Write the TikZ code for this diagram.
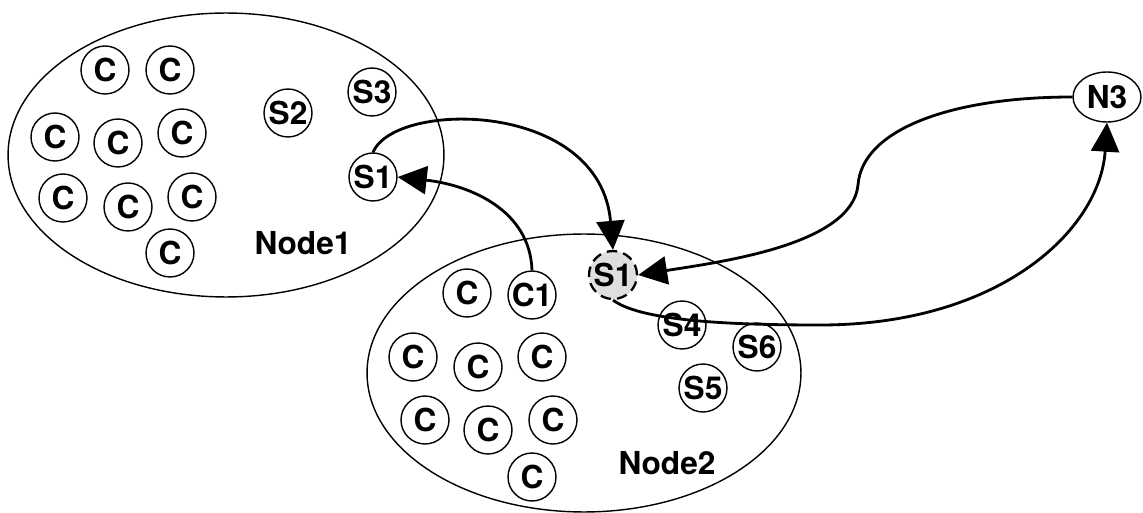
\documentclass[tikz,border=0pt]{standalone}
\usepackage{fontspec}
\setmainfont{TeX Gyre Heros}
\usetikzlibrary{arrows.meta,shapes.geometric}
\tikzset{
  every node/.style={font=\fontsize{18}{21}\selectfont\bfseries},
  big/.style={draw, ellipse, line width=0.8pt, inner sep=0pt},
  proc/.style={draw, circle, line width=0.8pt, minimum size=0.96cm, inner sep=0pt},
  ghost/.style={proc, dash pattern=on 6pt off 3.5pt, fill=gray!25, line width=1.3pt},
  lbl/.style={inner sep=0pt},
  link/.style={line width=1.6pt, -{Triangle[length=0.58cm,width=0.56cm]}}
}
\begin{document}
\begin{tikzpicture}[x=0.02cm,y=-0.02cm]
\useasboundingbox (0,0) rectangle (1143,513);
% big ellipses
\node[big, minimum width=8.72cm, minimum height=5.68cm] (node1) at (226,155) {};
\node[big, minimum width=8.68cm, minimum height=5.56cm] (node2) at (584,373) {};
\node[lbl] (node1lbl) at (303,243) {Node1};
\node[lbl] (node2lbl) at (667,463) {Node2};
% Node1 processes
\node[proc] (a1) at (105,70) {C};
\node[proc] (a2) at (170,70) {C};
\node[proc] (a3) at (55,137) {C};
\node[proc] (a4) at (118,143) {C};
\node[proc] (a5) at (182,133) {C};
\node[proc] (a6) at (63,198) {C};
\node[proc] (a7) at (128,207) {C};
\node[proc] (a8) at (192,197) {C};
\node[proc] (a9) at (170,253) {C};
\node[proc] (n1s2) at (288,113) {S2};
\node[proc] (n1s3) at (372,92) {S3};
\node[proc] (n1s1) at (373,177) {S1};
% Node2 processes
\node[proc] (b1) at (467,293) {C};
\node[proc] (c1) at (532,295) {C1};
\node[proc] (b3) at (413,357) {C};
\node[proc] (b4) at (478,367) {C};
\node[proc] (b5) at (542,357) {C};
\node[proc] (b6) at (425,420) {C};
\node[proc] (b7) at (488,430) {C};
\node[proc] (b8) at (553,420) {C};
\node[proc] (b9) at (532,477) {C};
\node[ghost] (n2s1) at (613,275) {S1};
\node[proc] (n2s4) at (682,325) {S4};
\node[proc] (n2s6) at (757,347) {S6};
\node[proc] (n2s5) at (703,388) {S5};
% N3
\node[draw, ellipse, line width=0.8pt, minimum width=1.36cm, minimum height=1.0cm, inner sep=0pt] (n3) at (1107,97) {N3};
% connectors
\draw[link] (n1s1.north) .. controls (395,100) and (600,100) .. (n2s1.north);
\draw[link] (c1.north) .. controls (530,210) and (470,185) .. (n1s1.east);
\draw[link] (n3.west) .. controls (950,97) and (862,130) .. (858,185) .. controls (852,245) and (720,262) .. (n2s1.east);
\draw[link] (n2s1.south) .. controls (640,320) and (720,325) .. (820,325) .. controls (1000,325) and (1100,230) .. (n3.south);
\end{tikzpicture}
\end{document}
